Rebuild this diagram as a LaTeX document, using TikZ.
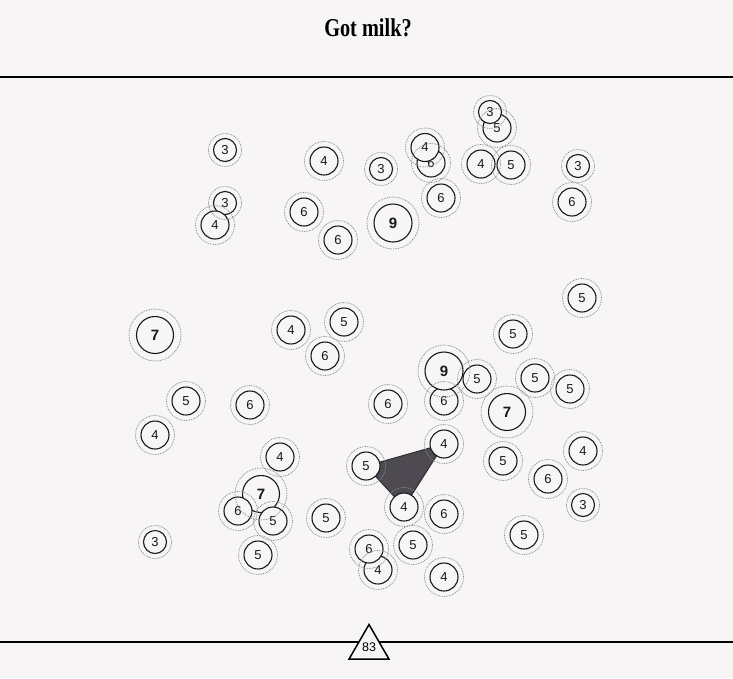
\documentclass[tikz,border=0pt]{standalone}
\usepackage{fontspec}
\setmainfont{Liberation Sans}
\newfontfamily\titlefont{Liberation Serif}
\usetikzlibrary{shapes.geometric}
\pgfdeclarelayer{back}\pgfdeclarelayer{poly}\pgfdeclarelayer{front}
\pgfsetlayers{back,poly,main,front}
\definecolor{bgc}{RGB}{247,245,246}
\definecolor{polyc}{RGB}{78,74,82}
\definecolor{polyedge}{RGB}{45,42,48}
\definecolor{ringc}{RGB}{140,140,140}
\definecolor{inkc}{RGB}{25,25,25}
\tikzset{
  bub/.style={circle,draw=inkc,line width=1.1pt,fill=bgc,inner sep=0pt,text=inkc,
    font=\fontsize{13}{13}\selectfont},
  c3/.style={bub,minimum size=23pt},
  c4/.style={bub,minimum size=28pt},
  c5/.style={bub,minimum size=28pt},
  c6/.style={bub,minimum size=28pt},
  c7/.style={bub,minimum size=37pt,font=\fontsize{15}{15}\selectfont\bfseries},
  c9/.style={bub,minimum size=38pt,font=\fontsize{15}{15}\selectfont\bfseries},
  ring/.style={circle,draw=ringc,dash pattern=on 0.8pt off 0.9pt,line width=0.8pt,inner sep=0pt},
  r3/.style={ring,minimum size=33pt},
  r4/.style={ring,minimum size=39pt},
  r5/.style={ring,minimum size=39pt},
  r6/.style={ring,minimum size=39pt},
  r7/.style={ring,minimum size=52pt},
  r9/.style={ring,minimum size=52pt},
  rule/.style={line width=2pt,draw=black},
  pagetri/.style={regular polygon,regular polygon sides=3,draw=black,line width=1.5pt,
    fill=bgc,minimum size=46pt,inner sep=0pt,font=\fontsize{12.5}{12.5}\selectfont},
  titletext/.style={font=\titlefont\bfseries\fontsize{25.7}{26}\selectfont}
}
\begin{document}
\begin{tikzpicture}[x=1pt,y=-1pt]
\begin{pgfonlayer}{back}
  \fill[bgc] (0,0) rectangle (733,678);
\end{pgfonlayer}
\useasboundingbox (0,0) rectangle (733,678);
\node[titletext] (title) at (368,28) {\scalebox{0.79}[1]{Got milk?}};
\coordinate (tl) at (0,77); \coordinate (tr) at (733,77);
\coordinate (bl) at (0,642); \coordinate (br) at (733,642);
\draw[rule] (tl) -- (tr);
\draw[rule] (bl) -- (br);
\node[pagetri] (page) at (369,647.5) {83};
\foreach \i/\x/\y/\v in {
  1/225/150/3, 2/324/161/4, 3/381/169/3, 4/431/163/6, 5/425/147.5/4,
  7/497/128/5, 6/490/112/3, 8/481/164/4, 9/511/165/5, 10/578/166/3,
  11/441/198/6, 12/572/202/6, 13/225/203/3, 14/215/225/4, 15/304/212/6,
  16/393/223/9, 17/338/240/6, 18/582/298/5, 19/155/335/7, 20/291/330/4,
  21/344/322/5, 22/325/356/6, 23/513/334/5, 28/444/401/6, 24/444/371/9,
  25/477/379/5, 26/535/378/5, 27/570/389/5, 29/507/412/7, 30/186/401/5,
  31/250/405/6, 32/388/404/6, 33/155/435/4, 34/444/444/4, 35/366/466/5,
  36/280/457/4, 37/503/461/5, 38/583/451/4, 39/548/479/6, 40/261/494/7,
  41/238/511/6, 42/273/521/5, 43/583/505/3, 44/404/507/4, 45/444/514/6,
  46/326/518/5, 47/524/535/5, 48/155/542/3, 49/413/545/5, 51/378/570/4,
  50/369/549/6, 52/258/555/5, 53/444/577/4} {
  \node[c\v] (b\i) at (\x,\y) {\v};
  \begin{pgfonlayer}{front}
    \node[r\v] (ring\i) at (b\i.center) {};
  \end{pgfonlayer}
}
\begin{pgfonlayer}{poly}
  \filldraw[fill=polyc,draw=polyedge,line width=1pt,line join=round]
    (b35.center) -- (b34.center) -- (b44.center) -- cycle;
\end{pgfonlayer}
\end{tikzpicture}
\end{document}
